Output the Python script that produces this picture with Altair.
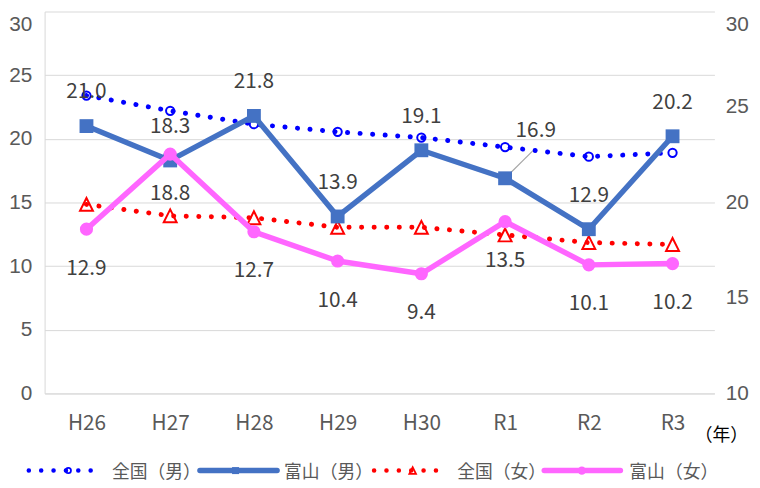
import json
import altair as alt
import pandas as pd

# ---------------- data ----------------
years = ["H26", "H27", "H28", "H29", "H30", "R1", "R2", "R3"]
series_names = ["全国（男）", "富山（男）", "全国（女）", "富山（女）"]
national_m = [25.6, 24.8, 24.1, 23.7, 23.4, 22.9, 22.4, 22.6]   # right axis
toyama_m = [21.0, 18.3, 21.8, 13.9, 19.1, 16.9, 12.9, 20.2]     # left axis
national_f = [19.9, 19.3, 19.2, 18.7, 18.7, 18.3, 17.9, 17.8]   # right axis
toyama_f = [12.9, 18.8, 12.7, 10.4, 9.4, 13.5, 10.1, 10.2]      # left axis
left_ticks = [0, 5, 10, 15, 20, 25, 30]
right_ticks = [10, 15, 20, 25, 30]
unit_label = "（年）"

def frame(values, name):
    return pd.DataFrame({"idx": list(range(len(years))), "year": years,
                         "series": name, "value": values})

df_nm = frame(national_m, series_names[0])
df_tm = frame(toyama_m, series_names[1])
df_nf = frame(national_f, series_names[2])
df_tf = frame(toyama_f, series_names[3])

# ---------------- styles ----------------
FONT = "Noto Sans CJK JP"
NUMFONT = "Liberation Sans"
C_NM = "#0000FF"
C_TM = "#4472C4"
C_NF = "#FF0000"
C_TF = "#FF66FF"
GRID = "#D9D9D9"
AXT = "#595959"
LBL = "#404040"
TRI = "M0,-1L1,1L-1,1Z"
DOT = [0.1, 12.6]

x_axis = alt.Axis(values=list(range(len(years))),
                  labelExpr=json.dumps(years) + "[datum.value]",
                  grid=False, ticks=False, domain=True, domainColor=GRID,
                  labelFont=FONT, labelFontSize=21, labelColor=AXT,
                  labelPadding=19, title=None)
x_enc = alt.X("idx:Q", scale=alt.Scale(domain=[-0.5, len(years) - 0.5], nice=False, zero=False),
              axis=x_axis)

top_nudge = alt.condition("datum.value == 30", alt.value(13), alt.value(0))

yl_axis = alt.Axis(values=left_ticks, grid=True, gridColor=GRID, gridWidth=1,
                   domain=True, domainColor=GRID, ticks=False,
                   labelFont=NUMFONT, labelFontSize=21, labelColor=AXT,
                   labelPadding=13, labelOffset=top_nudge, title=None)
yl = alt.Y("value:Q", scale=alt.Scale(domain=[0, 30], nice=False, zero=False), axis=yl_axis)

yr_axis = alt.Axis(values=right_ticks, orient="right", grid=False, domain=False, ticks=False,
                   labelFont=NUMFONT, labelFontSize=21, labelColor=AXT,
                   labelPadding=11, labelOffset=top_nudge, title=None)
yr = alt.Y("value:Q", scale=alt.Scale(domain=[10, 30], nice=False, zero=False), axis=yr_axis)

# ---------------- national (right axis) ----------------
nm_line = alt.Chart(df_nm).mark_line(color=C_NM, strokeWidth=5, strokeDash=DOT,
                                     strokeCap="round").encode(x=x_enc, y=yr)
nm_pts = alt.Chart(df_nm).mark_point(shape="circle", filled=False, size=70, strokeWidth=2,
                                     color=C_NM, opacity=1).encode(x=x_enc, y=yr)
nf_line = alt.Chart(df_nf).mark_line(color=C_NF, strokeWidth=5, strokeDash=DOT,
                                     strokeCap="round").encode(x=x_enc, y=yr)
nf_pts = alt.Chart(df_nf).mark_point(shape=TRI, filled=False, size=170, strokeWidth=2,
                                     color=C_NF, opacity=1).encode(x=x_enc, y=yr)
right_group = alt.layer(nm_line, nm_pts, nf_line, nf_pts)

# ---------------- toyama (left axis) ----------------
leader = alt.Chart(df_tm).transform_filter(alt.datum.year == "R1").transform_calculate(
    x2="datum.idx + 0.33", y2="datum.value + 2.15"
).mark_rule(color="#A6A6A6", strokeWidth=1.2).encode(x=x_enc, y=yl, x2="x2:Q", y2="y2:Q")

tm_line = alt.Chart(df_tm).mark_line(color=C_TM, strokeWidth=5.5, strokeJoin="round",
                                     strokeCap="round").encode(x=x_enc, y=yl)
tm_pts = alt.Chart(df_tm).mark_point(shape="square", filled=True, size=196, strokeWidth=0,
                                     color=C_TM, opacity=1).encode(x=x_enc, y=yl)
tf_line = alt.Chart(df_tf).mark_line(color=C_TF, strokeWidth=5.5, strokeJoin="round",
                                     strokeCap="round").encode(x=x_enc, y=yl)
tf_pts = alt.Chart(df_tf).mark_point(shape="circle", filled=True, size=177, strokeWidth=0,
                                     color=C_TF, opacity=1).encode(x=x_enc, y=yl)

lbl_kw = dict(font=FONT, fontSize=21, color=LBL, baseline="middle", align="center")
tm_lbl = alt.Chart(df_tm).transform_filter(alt.datum.year != "R1").mark_text(
    dy=-34, **lbl_kw).encode(x=x_enc, y=yl, text=alt.Text("value:Q", format=".1f"))
tm_lbl_r1 = alt.Chart(df_tm).transform_filter(alt.datum.year == "R1").mark_text(
    dx=31, dy=-48, **lbl_kw).encode(x=x_enc, y=yl, text=alt.Text("value:Q", format=".1f"))
tf_lbl = alt.Chart(df_tf).mark_text(dy=40, **lbl_kw).encode(
    x=x_enc, y=yl, text=alt.Text("value:Q", format=".1f"))

left_group = alt.layer(leader, tm_line, tm_pts, tf_line, tf_pts, tm_lbl, tm_lbl_r1, tf_lbl)

# ---------------- manual legend & unit label ----------------
one = pd.DataFrame({"k": [0]})
LEG_Y = 464
LEG_TXT_Y = 466
leg_x1 = [-16, 157, 333, 505]
leg_x2 = [55, 235, 403, 582]
leg_mk = [24, 193, 372, 543]
leg_tx = [68, 242, 417, 591]
leg_layers = []
for i, name in enumerate(series_names):
    if i in (0, 2):
        col = C_NM if i == 0 else C_NF
        ln = alt.Chart(one).mark_rule(color=col, strokeWidth=4.5, strokeDash=[0.1, 12.4],
                                      strokeCap="round")
        if i == 0:
            mk = alt.Chart(one).mark_point(shape="circle", filled=False, size=28, strokeWidth=1.8,
                                           color=col, opacity=1)
        else:
            mk = alt.Chart(one).mark_point(shape=TRI, filled=False, size=45, strokeWidth=1.8,
                                           color=col, opacity=1)
    else:
        col = C_TM if i == 1 else C_TF
        ln = alt.Chart(one).mark_rule(color=col, strokeWidth=5.5, strokeCap="round")
        if i == 1:
            mk = alt.Chart(one).mark_point(shape="square", filled=True, size=50, strokeWidth=0,
                                           color=col, opacity=1)
        else:
            mk = alt.Chart(one).mark_point(shape="circle", filled=True, size=70, strokeWidth=0,
                                           color=col, opacity=1)
    leg_layers.append(ln.encode(x=alt.value(leg_x1[i]), x2=alt.value(leg_x2[i]), y=alt.value(LEG_Y)))
    leg_layers.append(mk.encode(x=alt.value(leg_mk[i]), y=alt.value(LEG_Y)))
    leg_layers.append(alt.Chart(one).mark_text(font=FONT, fontSize=18, color=AXT, align="left",
                                               baseline="middle").encode(
        x=alt.value(leg_tx[i]), y=alt.value(LEG_TXT_Y), text=alt.value(name)))

unit = alt.Chart(one).mark_text(font=FONT, fontSize=18, color="#000000", align="right",
                                baseline="middle").encode(
    x=alt.value(711), y=alt.value(429), text=alt.value(unit_label))

chart = alt.layer(right_group, left_group, unit, *leg_layers).resolve_scale(
    y="independent"
).properties(
    width=677, height=386,
    padding={"left": 37, "top": 1, "right": 38, "bottom": 90},
    autosize=alt.AutoSizeParams(type="none"),
).configure_view(stroke="transparent")

chart.save("out.html", embed_options={"renderer": "svg", "actions": False})
